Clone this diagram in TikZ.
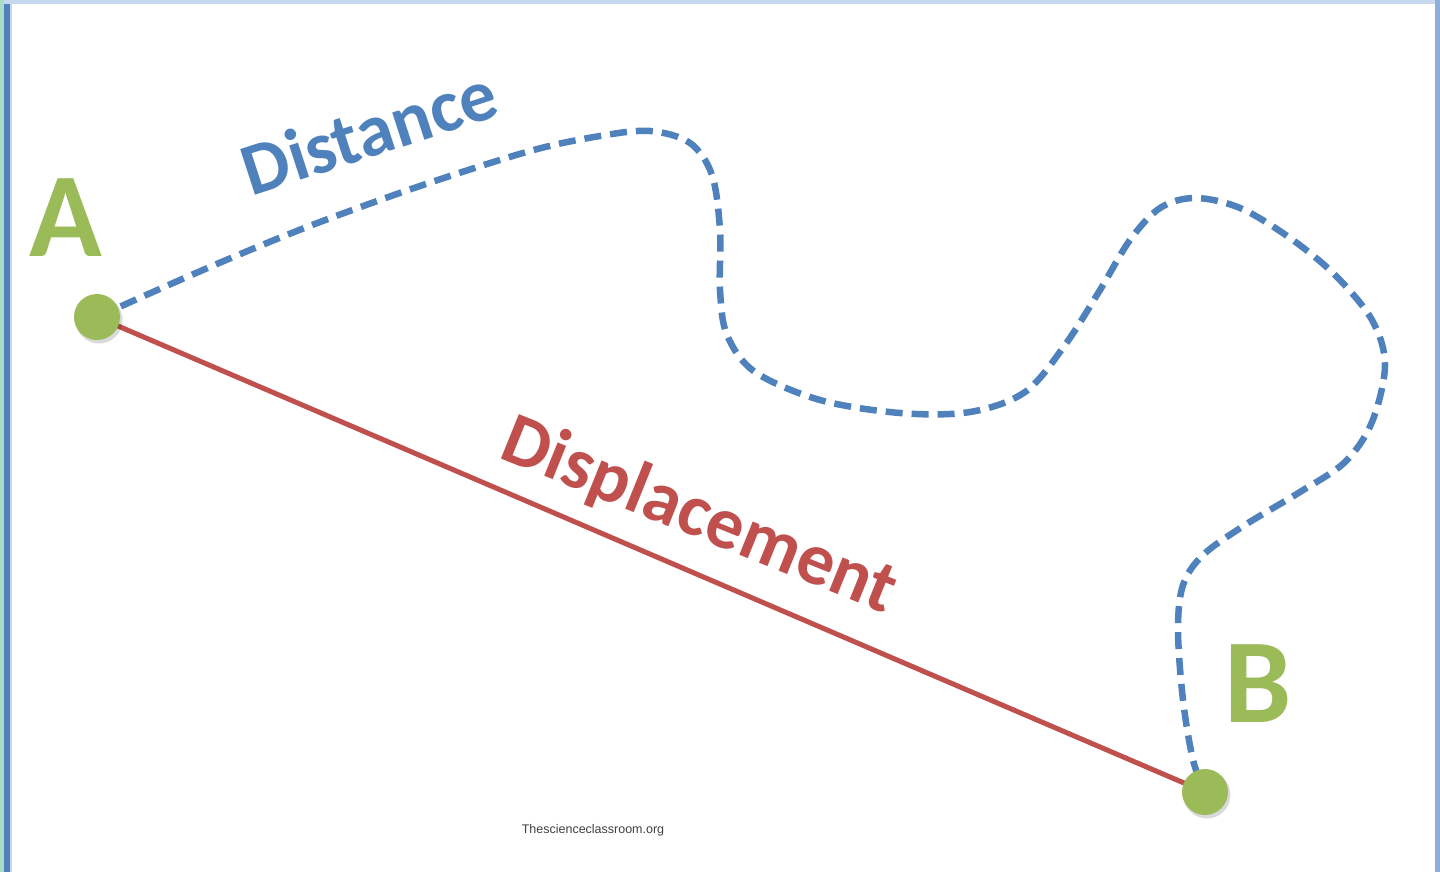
\documentclass[tikz,border=0pt]{standalone}
\usepackage{fontspec}
\setmainfont{Carlito}
\newfontfamily\wmfont{Liberation Sans}
\definecolor{offblue}{HTML}{4F81BD}
\definecolor{offred}{HTML}{C0504D}
\definecolor{offgreen}{HTML}{9BBB59}
\definecolor{frameteal}{HTML}{A9DCC6}
\definecolor{framelight}{HTML}{C6D8EE}
\definecolor{frameright}{HTML}{8EAEDA}
\tikzset{
  pointdot/.style={circle, fill=offgreen, minimum size=46pt, inner sep=0pt},
  pointshadow/.style={circle, fill=black, opacity=0.15, minimum size=47pt, inner sep=0pt},
  pointlabel/.style={text=offgreen, font=\bfseries\fontsize{120}{120}\selectfont, inner sep=0pt},
  distpath/.style={draw=offblue, line width=6.5pt, dash pattern=on 17pt off 9pt},
  disppath/.style={draw=offred, line width=5pt},
  distlabel/.style={text=offblue, font=\bfseries\fontsize{74}{74}\selectfont, inner sep=0pt},
  displabel/.style={text=offred, font=\bfseries\fontsize{74}{74}\selectfont, inner sep=0pt},
  watermark/.style={text=black!75, font=\wmfont\fontsize{12.5}{12.5}\selectfont, inner sep=0pt}
}
\begin{document}
\begin{tikzpicture}[x=1pt,y=-1pt]
\useasboundingbox (0,0) rectangle (1440,872);
\fill[white] (0,0) rectangle (1440,872);
% frame
\fill[frameteal] (0,0) rectangle (4,872);
\fill[offblue] (4,0) rectangle (10,872);
\fill[framelight] (10,0) rectangle (12,872);
\fill[framelight] (4,0) rectangle (1440,4);
\fill[frameright] (1435,0) rectangle (1440,872);

% points
\coordinate (A) at (97,317);
\coordinate (B) at (1205,792);

% displacement
\draw[disppath] (A) -- (B);

% distance path
\draw[distpath] plot[smooth, tension=0.55] coordinates {
 (A) (180,280) (250,250) (320,222) (420,186) (530,151) (600,136) (650,131)
 (690,143) (712,175) (720,230) (720,290) (727,335) (755,372) (820,400)
 (900,413) (970,412) (1025,392) (1065,345) (1100,290) (1130,240) (1160,208)
 (1195,198) (1240,208) (1290,238) (1335,275) (1372,320) (1385,365) (1372,422)
 (1345,462) (1300,492) (1245,525) (1203,555) (1183,585) (1178,630) (1183,700)
 (1193,760) (B)};

% dots
\node[pointshadow] (Ash) at (99,320) {};
\node[pointshadow] (Bsh) at (1207,795) {};
\node[pointdot] (Adot) at (A) {};
\node[pointdot] (Bdot) at (B) {};

% labels
\node[pointlabel] (Alab) at (66,218) {A};
\node[pointlabel] (Blab) at (1258,684) {B};
\node[distlabel, rotate=18] (distlab) at (369,131) {Distance};
\node[displabel, rotate=-22] (displab) at (699,517) {Displacement};
\node[watermark] (wm) at (593,830) {Thescienceclassroom.org};
\end{tikzpicture}
\end{document}
